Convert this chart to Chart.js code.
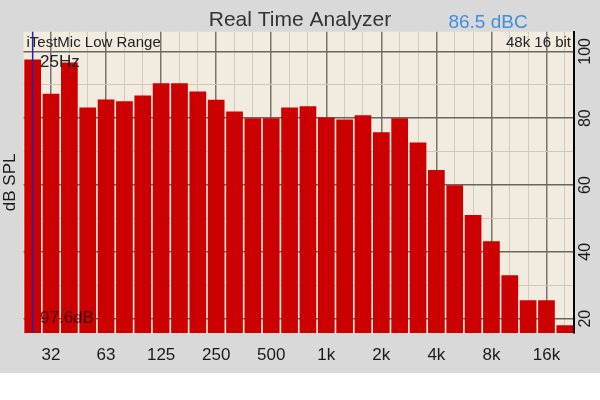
<!DOCTYPE html>
<html>
<head>
<meta charset="utf-8">
<script src="https://cdn.jsdelivr.net/npm/chart.js@4/dist/chart.umd.min.js"></script>
<style>
  html, body { margin: 0; padding: 0; background: #fff; }
  #wrap { width: 600px; height: 373px; background: #d9d9d9; }
</style>
</head>
<body>
<div id="wrap"><canvas id="rta"></canvas></div>
<script>
// 1/3 octave bands, 25 Hz .. 20 kHz
const bands = ['25', '32', '40', '50', '63', '80', '100', '125', '160', '200',
    '250', '315', '400', '500', '630', '800', '1k', '1.25k', '1.6k', '2k',
    '2.5k', '3.15k', '4k', '5k', '6.3k', '8k', '10k', '12.5k', '16k', '20k'];
const levels = [97.6, 87.3, 96.7, 83.2, 85.6, 85.1, 86.8, 90.5, 90.5, 88.0,
    85.5, 82.0, 80.0, 80.0, 83.2, 83.6, 80.2, 79.6, 80.9, 75.8,
    80.0, 72.7, 64.5, 59.9, 51.0, 43.2, 33.0, 25.5, 25.5, 18.0];
const yMin = 15.7;
const yMax = 105.9;
const selectedBand = 0;

Chart.defaults.font.family = '"Liberation Sans", Arial, sans-serif';

const rtaDecor = {
    id: 'rtaDecor',
    beforeDraw(chart) {
        const { ctx, chartArea: a } = chart;
        ctx.save();
        ctx.fillStyle = '#f2ebdf';
        ctx.fillRect(a.left, a.top, a.right - a.left, a.bottom - a.top);
        ctx.restore();
    },
    afterDatasetsDraw(chart) {
        const { ctx, chartArea: a, scales } = chart;
        ctx.save();
        // header texts
        ctx.fillStyle = '#222';
        ctx.font = '15px "Liberation Sans", Arial, sans-serif';
        ctx.textBaseline = 'alphabetic';
        ctx.textAlign = 'left';
        ctx.fillText('iTestMic Low Range', a.left + 3, a.top + 15);
        ctx.textAlign = 'right';
        ctx.fillText('48k 16 bit', a.right - 3, a.top + 15);

        // selected band marker
        const bx = scales.x.getPixelForValue(selectedBand);
        ctx.strokeStyle = '#2424a8';
        ctx.lineWidth = 1.5;
        ctx.beginPath();
        ctx.moveTo(bx, a.top);
        ctx.lineTo(bx, a.bottom);
        ctx.stroke();

        ctx.font = '17px "Liberation Sans", Arial, sans-serif';
        ctx.textAlign = 'left';
        ctx.fillStyle = '#222';
        ctx.fillText('25Hz', a.left + 16.5, a.top + 35);
        ctx.fillStyle = 'rgba(40,0,0,0.8)';
        ctx.fillText(levels[selectedBand].toFixed(1) + 'dB', a.left + 16.5, a.bottom - 10);

        // weighted level next to the title
        ctx.font = '19px "Liberation Sans", Arial, sans-serif';
        ctx.fillStyle = '#3f8fde';
        ctx.textAlign = 'center';
        ctx.fillText('86.5 dBC', 488, 27.7);
        ctx.restore();
    }
};

new Chart('rta', {
    type: 'bar',
    data: {
        labels: bands,
        datasets: [{
            data: levels,
            yAxisID: 'y',
            backgroundColor: '#cc0000',
            borderWidth: 0,
            barPercentage: 0.91,
            categoryPercentage: 1
        }]
    },
    options: {
        responsive: true,
        maintainAspectRatio: false,
        animation: false,
        layout: { padding: 0 },
        plugins: {
            legend: { display: false },
            tooltip: { enabled: false },
            title: {
                display: true,
                text: 'Real Time Analyzer',
                color: '#333',
                font: { size: 21, weight: 'normal', lineHeight: 1 },
                padding: { top: 9.5, bottom: 1.2 }
            }
        },
        scales: {
            x: {
                grid: {
                    offset: false,
                    drawTicks: false,
                    color: c => c.index % 3 === 1 ? '#7a756c' : '#d2cbbe',
                    lineWidth: c => c.index % 3 === 1 ? 1.5 : 1
                },
                border: { display: false },
                ticks: {
                    autoSkip: false,
                    maxRotation: 0,
                    padding: 12,
                    color: '#1a1a1a',
                    font: { size: 17 },
                    callback: (v, i) => i % 3 === 1 ? bands[i] : ''
                },
                afterFit: s => { s.height = 40; }
            },
            yl: {
                position: 'left',
                min: 0,
                max: 1,
                grid: { display: false },
                border: { display: false },
                ticks: { display: false },
                title: {
                    display: true,
                    text: 'dB SPL',
                    color: '#1a1a1a',
                    font: { size: 17 },
                    padding: 0
                },
                afterFit: s => { s.width = 23.5; }
            },
            y: {
                position: 'right',
                min: yMin,
                max: yMax,
                grid: {
                    drawTicks: false,
                    color: c => c.tick && c.tick.value % 20 === 0 ? '#6a655d' : '#cfc8ba',
                    lineWidth: c => c.tick && c.tick.value % 20 === 0 ? 1.5 : 1
                },
                border: { display: true, color: '#000', width: 2 },
                ticks: {
                    stepSize: 10,
                    includeBounds: false,
                    minRotation: 90,
                    maxRotation: 90,
                    crossAlign: 'center',
                    padding: -1.5,
                    color: '#1a1a1a',
                    font: { size: 16 },
                    callback: v => v % 20 === 0 ? v : ''
                },
                afterFit: s => { s.width = 26; }
            }
        }
    },
    plugins: [rtaDecor]
});
</script>
</body>
</html>
